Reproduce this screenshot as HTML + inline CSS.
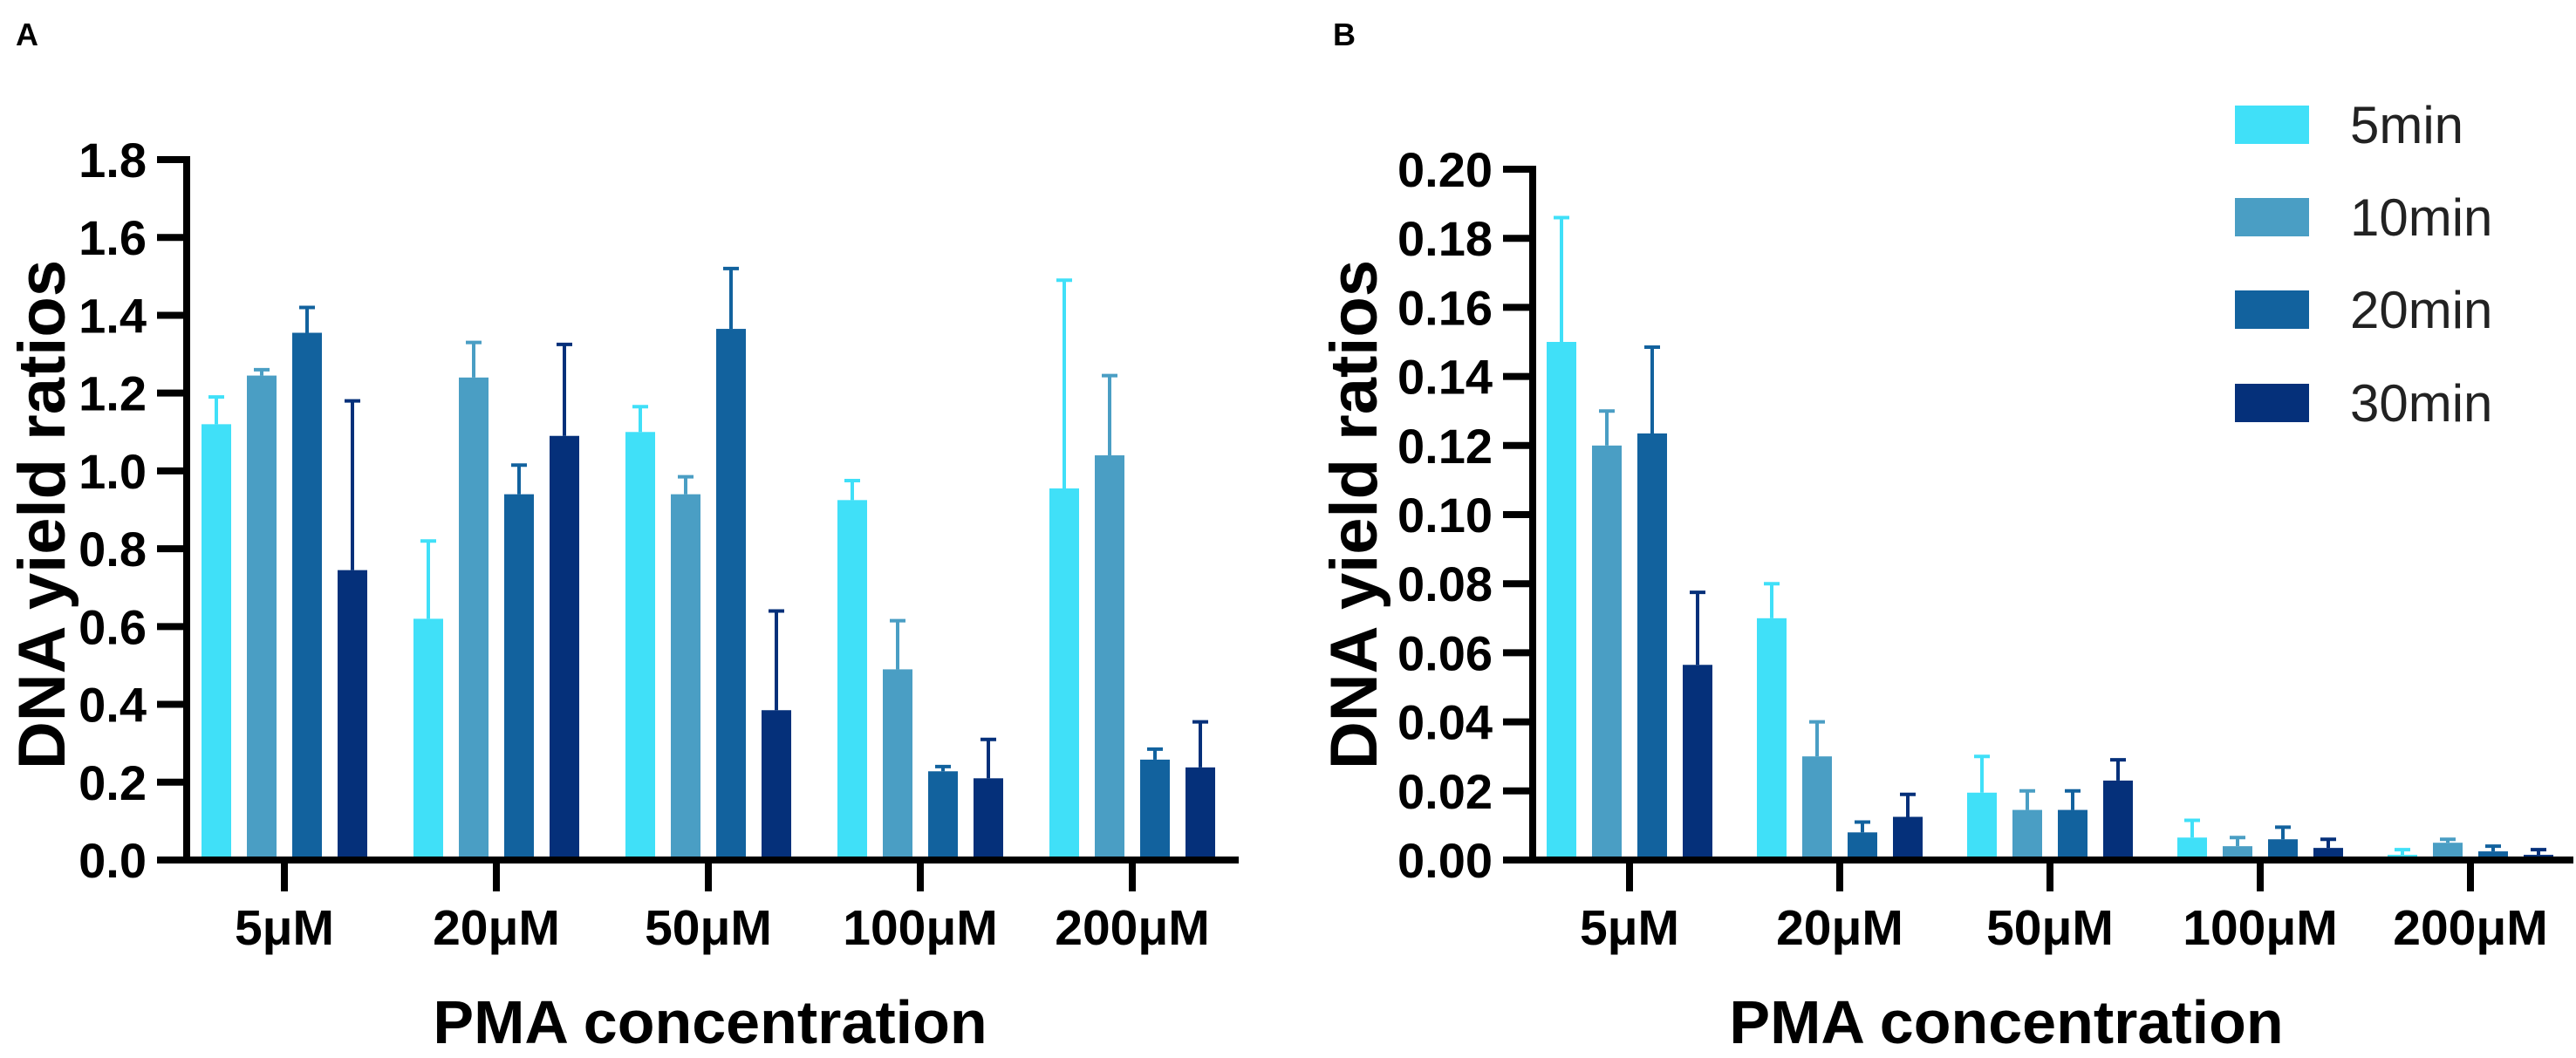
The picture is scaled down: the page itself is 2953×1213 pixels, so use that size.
<!DOCTYPE html>
<html><head><meta charset="utf-8">
<style>
html,body{margin:0;padding:0;background:#fff;}
svg{display:block;font-family:"Liberation Sans",Arial,sans-serif;}
</style></head>
<body>
<svg id="fig" width="2953" height="1213" viewBox="0 0 2953 1213" xmlns="http://www.w3.org/2000/svg">
<text x="18" y="52" font-size="36" font-weight="bold">A</text>
<text x="1528" y="52" font-size="36" font-weight="bold">B</text>
<g id="chartA"></g>
<g id="chartB"></g>
<g id="legend"></g>
</svg>
<script>
const categories = ["5μM","20μM","50μM","100μM","200μM"];
const seriesNames = ["5min","10min","20min","30min"];
const colors = ["#40E0F8","#4A9EC4","#12629E","#05307A"];
// Panel A values [series][category]
const aMean5 = [1.12, 0.62, 1.10, 0.925, 0.955];
const aMean10 = [1.245, 1.24, 0.94, 0.49, 1.04];
const aMean20 = [1.355, 0.94, 1.365, 0.228, 0.258];
const aMean30 = [0.745, 1.09, 0.385, 0.21, 0.238];
const aErr5 = [1.19, 0.82, 1.165, 0.975, 1.49];
const aErr10 = [1.26, 1.33, 0.985, 0.615, 1.245];
const aErr20 = [1.42, 1.015, 1.52, 0.24, 0.285];
const aErr30 = [1.18, 1.325, 0.64, 0.31, 0.355];
const aTicks = ["0.0","0.2","0.4","0.6","0.8","1.0","1.2","1.4","1.6","1.8"];
// Panel B values
const bMean5 = [0.150, 0.070, 0.0195, 0.0065, 0.0015];
const bMean10 = [0.120, 0.030, 0.0145, 0.004, 0.005];
const bMean20 = [0.1235, 0.008, 0.0145, 0.006, 0.0025];
const bMean30 = [0.0565, 0.0125, 0.023, 0.0035, 0.0015];
const bErr5 = [0.186, 0.080, 0.030, 0.0115, 0.003];
const bErr10 = [0.130, 0.040, 0.020, 0.0065, 0.006];
const bErr20 = [0.1485, 0.011, 0.020, 0.0095, 0.004];
const bErr30 = [0.0775, 0.019, 0.029, 0.006, 0.003];
const bTicks = ["0.00","0.02","0.04","0.06","0.08","0.10","0.12","0.14","0.16","0.18","0.20"];

const NS = "http://www.w3.org/2000/svg";
function mk(parent, tag, attrs, text){
  const e = document.createElementNS(NS, tag);
  for (const k in attrs) e.setAttribute(k, attrs[k]);
  if (text !== undefined) e.textContent = text;
  parent.appendChild(e);
  return e;
}

function drawPanel(g, cfg){
  const yScale = v => cfg.y0 - (v / cfg.yMax) * (cfg.y0 - cfg.yTop);
  const xScale = i => cfg.xFirst + i * cfg.xStep;
  const offsets = [-78, -26, 26, 78];
  const bw = 34;
  for (let s = 0; s < 4; s++){
    for (let c = 0; c < categories.length; c++){
      const v = cfg.means[s][c], ev = cfg.errs[s][c];
      const cx = xScale(c) + offsets[s];
      const yv = yScale(v), ye = yScale(ev);
      const eline = mk(g, "line", {x1:cx, x2:cx, y1:yv, y2:ye, stroke:colors[s], "stroke-width":4});
      
      
      const cap = mk(g, "line", {x1:cx-9, x2:cx+9, y1:ye, y2:ye, stroke:colors[s], "stroke-width":4});
      
      
      const r = mk(g, "rect", {x:cx-bw/2, y:yv, width:bw, height:cfg.y0-yv, fill:colors[s]});
      
      
    }
  }
  const ya = mk(g, "line", {x1:cfg.xAxis, x2:cfg.xAxis, y1:cfg.yTop-4, y2:cfg.y0+4, stroke:"#000", "stroke-width":8});
  
  
  for (let i = 0; i < cfg.ticks.length; i++){
    const v = parseFloat(cfg.ticks[i]);
    const y = yScale(v);
    const t = mk(g, "line", {x1:cfg.xAxis-34, x2:cfg.xAxis, y1:y, y2:y, stroke:"#000", "stroke-width":8});
    
    
    const lb = mk(g, "text", {x:cfg.xAxis-46, y:y+20, "font-size":56, "font-weight":"bold", "text-anchor":"end"}, cfg.ticks[i]);
    
    
  }
  const xa = mk(g, "line", {x1:cfg.xAxis-34, x2:cfg.xEnd, y1:cfg.y0, y2:cfg.y0, stroke:"#000", "stroke-width":8});
  
  
  for (let c = 0; c < categories.length; c++){
    const x = xScale(c);
    const t = mk(g, "line", {x1:x, x2:x, y1:cfg.y0, y2:cfg.y0+36, stroke:"#000", "stroke-width":8});
    
    
    const lb = mk(g, "text", {x:x, y:1083, "font-size":57, "font-weight":"bold", "text-anchor":"middle"}, categories[c]);
    
    
  }
  const xt = mk(g, "text", {x:cfg.xTitle, y:1196, "font-size":70, "font-weight":"bold", "text-anchor":"middle"}, "PMA concentration");
  
  
  const yt = mk(g, "text", {x:0, y:0, "font-size":76, "font-weight":"bold", "text-anchor":"middle", transform:`translate(${cfg.yTitleX},${cfg.yTitleY}) rotate(-90)`}, "DNA yield ratios");
  
  
}

drawPanel(document.getElementById("chartA"), {
  y0:986, yTop:183, yMax:1.8, xAxis:214, xEnd:1420, xFirst:326, xStep:243,
  means:[aMean5,aMean10,aMean20,aMean30], errs:[aErr5,aErr10,aErr20,aErr30], ticks:aTicks,
  xTitle:814, yTitleX:74, yTitleY:590
});
drawPanel(document.getElementById("chartB"), {
  y0:986, yTop:194, yMax:0.20, xAxis:1757, xEnd:2950, xFirst:1868, xStep:241,
  means:[bMean5,bMean10,bMean20,bMean30], errs:[bErr5,bErr10,bErr20,bErr30], ticks:bTicks,
  xTitle:2300, yTitleX:1578, yTitleY:590
});

const lg = document.getElementById("legend");
const legendY = [143, 249, 355, 462];
for (let s = 0; s < 4; s++){
  const r = mk(lg, "rect", {x:2562, y:legendY[s]-22, width:85, height:44, fill:colors[s]});
  
  
  const t = mk(lg, "text", {x:2694, y:legendY[s]+21, "font-size":60, fill:"#222"}, seriesNames[s]);
  
  
}
</script>
</body></html>
